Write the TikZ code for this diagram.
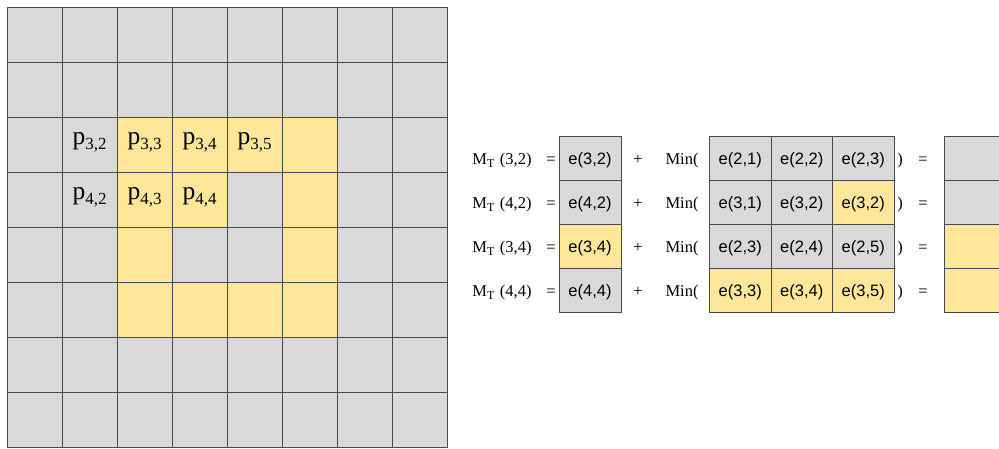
\documentclass[tikz,border=0pt]{standalone}
\usepackage{fontspec}
\setmainfont{Liberation Serif}
\newfontfamily\arialf{Liberation Sans}
\definecolor{cellgray}{HTML}{D9D9D9}
\definecolor{cellyel}{HTML}{FFE699}
\definecolor{lineg}{HTML}{4A4A4A}
\newcommand{\psub}[1]{\raisebox{-0.2em}{\fontsize{17}{17}\selectfont #1}}
\newcommand{\msub}[1]{\raisebox{-0.22em}{\fontsize{12}{12}\selectfont #1}}
\begin{document}
\begin{tikzpicture}[x=1pt,y=-1pt,
  cell/.style={draw=lineg, line width=1pt, minimum width=55pt, minimum height=55pt,
    inner sep=0pt, outer sep=0pt, anchor=north west},
  ptext/.style={inner sep=0pt, text height=7pt, text depth=7pt,
    font=\fontsize{25.5}{25.5}\selectfont},
  ecell/.style={draw=lineg, line width=1pt, minimum height=44pt,
    inner sep=0pt, outer sep=0pt, anchor=north west, text height=12pt, text depth=0pt,
    font=\arialf\fontsize{16.5}{16.5}\selectfont},
  lbl/.style={inner sep=0pt, anchor=base, font=\fontsize{16.5}{16.5}\selectfont}]
\clip (0,0) rectangle (999,448);
\fill[white] (0,0) rectangle (999,448);
% left grid
\foreach \r in {1,...,8}{
  \foreach \c in {1,...,8}{
    \node[cell, fill=cellgray] (g\r\c) at ({7+55*(\c-1)},{7+55*(\r-1)}) {};
  }
}
\foreach \r/\c in {3/3,3/4,3/5,3/6,4/3,4/4,4/6,5/3,5/6,6/3,6/4,6/5,6/6}{
  \node[cell, fill=cellyel] (g\r\c) at ({7+55*(\c-1)},{7+55*(\r-1)}) {};
}
\foreach \r/\c in {3/2,3/3,3/4,3/5,4/2,4/3,4/4}{
  \node[ptext] (p\r\c) at (g\r\c.center) {p\psub{\r,\c}};
}
% right side equations
\foreach \i/\lab/\mc/\mt/\aa/\ac/\ba/\bc/\ca/\cc/\rc in {
  1/{(3,2)}/cellgray/{e(3,2)}/{e(2,1)}/cellgray/{e(2,2)}/cellgray/{e(2,3)}/cellgray/cellgray,
  2/{(4,2)}/cellgray/{e(4,2)}/{e(3,1)}/cellgray/{e(3,2)}/cellgray/{e(3,2)}/cellyel/cellgray,
  3/{(3,4)}/cellyel/{e(3,4)}/{e(2,3)}/cellgray/{e(2,4)}/cellgray/{e(2,5)}/cellgray/cellyel,
  4/{(4,4)}/cellgray/{e(4,4)}/{e(3,3)}/cellyel/{e(3,4)}/cellyel/{e(3,5)}/cellyel/cellyel}{
  \pgfmathsetmacro{\top}{136+44*(\i-1)}
  \pgfmathsetmacro{\base}{\top+28}
  \node[lbl] (mt\i) at (502,\base) {M\msub{T}\,\,\lab};
  \node[lbl] (eqa\i) at (551,\base) {=};
  \node[ecell, fill=\mc, minimum width=62pt] (m\i) at (559,\top) {\mt};
  \node[lbl] (plus\i) at (638,\base) {+};
  \node[lbl] (min\i) at (682,\base) {Min(};
  \node[ecell, fill=\ac, minimum width=61.5pt] (n\i a) at (709.5,\top) {\aa};
  \node[ecell, fill=\bc, minimum width=61.5pt] (n\i b) at (771,\top) {\ba};
  \node[ecell, fill=\cc, minimum width=61.5pt] (n\i c) at (832.5,\top) {\ca};
  \node[lbl] (rp\i) at (900,\base) {)};
  \node[lbl] (eqb\i) at (923,\base) {=};
  \node[ecell, fill=\rc, minimum width=80pt] (r\i) at (944.5,\top) {};
}
\end{tikzpicture}
\end{document}
